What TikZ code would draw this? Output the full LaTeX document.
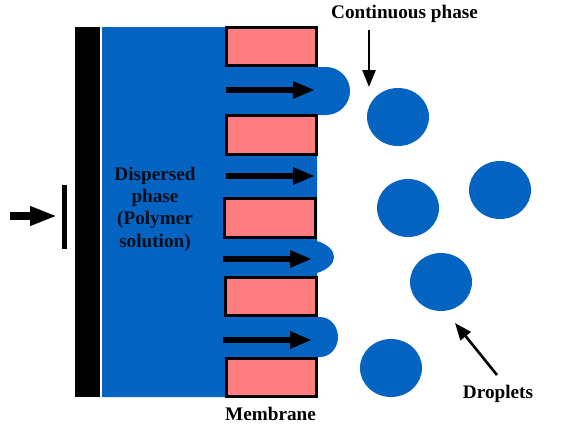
\documentclass[tikz,border=0pt]{standalone}
\usepackage{fontspec}
\setmainfont{Liberation Serif}
\usepackage{xcolor}
\usepackage{tikz}
\usetikzlibrary{arrows.meta, shapes.geometric}
\definecolor{phaseblue}{HTML}{0563C1}
\definecolor{poresalmon}{HTML}{FF7C80}

\begin{document}
\begin{tikzpicture}[
        x=1pt, y=-1pt,
        membrane/.style={draw, fill=poresalmon, line width=3pt, minimum height=38.5pt, minimum width=90.5pt, inner sep=0pt},
        droplet/.style={ellipse, fill=phaseblue, minimum width=62pt, minimum height=58pt, inner sep=0pt},
        label/.style={font=\fontsize{19.2}{22.3}\selectfont\bfseries, align=center, inner sep=0pt},
        arrow/.style={-{Triangle[length=22pt, width=16pt]}, line width=5.5pt},
        pointer/.style={-{Triangle[length=17pt, width=13pt]}, line width=2.6pt},
    ]
        \useasboundingbox (0,0) rectangle (572,431);
        % Dispersed phase with the bulges through the pores
        \fill[phaseblue] (102,27) -- (270,27) -- (270,67) -- (326,67)
            .. controls (339.2,67) and (350,77.8) .. (350,91)
            .. controls (350,104.2) and (339.2,115) .. (326,115)
            -- (317,115) -- (317,241)
            .. controls (327,244) and (334,250) .. (334,257)
            .. controls (334,264) and (327,270) .. (317,273)
            -- (317,317) -- (320,317)
            .. controls (330,317) and (338,326) .. (338,337)
            .. controls (338,348) and (330,357) .. (320,357)
            -- (270,357) -- (270,397) -- (102,397) -- cycle;
        % Plate and piston
        \node (plate) at (87.5,212) [fill=black, minimum width=25pt, minimum height=370pt, inner sep=0pt] {};
        \node (piston) at (64.5,217) [fill=black, minimum width=5pt, minimum height=64pt, inner sep=0pt] {};
        \coordinate (pushStart) at (10,216);
        \coordinate (pushEnd) at (57,216);
        % Membrane
        \node (wallA) at (271.5,46.5) [membrane] {};
        \node (wallB) at (271.5,135) [membrane] {};
        \node (wallC) at (270,218) [membrane] {};
        \node (wallD) at (271,296.5) [membrane] {};
        \node (wallE) at (271.5,377.5) [membrane] {};
        % Droplets
        \node (dropA) at (398,117) [droplet] {};
        \node (dropB) at (408,208) [droplet] {};
        \node (dropC) at (500,190) [droplet] {};
        \node (dropD) at (441,282) [droplet] {};
        \node (dropE) at (391,368) [droplet] {};
        % Labels
        \node (continuous) at (404.5,14) [label] {Continuous phase};
        \node (dispersed) at (155,209) [label, text=black!85!phaseblue] {Dispersed\\phase\\(Polymer\\solution)};
        \node (membraneText) at (270.5,414) [label] {Membrane};
        \node (dropletsText) at (498,394) [label] {Droplets};
        % Flow through the pores
        \coordinate (poreStartA) at (226,90);
        \coordinate (poreEndA) at (315,90);
        \coordinate (poreStartB) at (226,176);
        \coordinate (poreEndB) at (315,176);
        \coordinate (poreStartC) at (223,259);
        \coordinate (poreEndC) at (312,259);
        \coordinate (poreStartD) at (223,340);
        \coordinate (poreEndD) at (312,340);
        \coordinate (feedEnd) at (369,87);
        \coordinate (feedStart) at (369,30);
        \coordinate (pointStart) at (497,375);
        \coordinate (pointEnd) at (455,323);

        \draw[-{Triangle[length=27pt, width=18pt]}, line width=8pt] (pushStart) -- (pushEnd);
        \draw[arrow] (poreStartA) -- (poreEndA);
        \draw[arrow] (poreStartB) -- (poreEndB);
        \draw[arrow] (poreStartC) -- (poreEndC);
        \draw[arrow] (poreStartD) -- (poreEndD);
        \draw[pointer] (feedStart) -- (feedEnd);
        \draw[pointer] (pointStart) -- (pointEnd);
\end{tikzpicture}
\end{document}
